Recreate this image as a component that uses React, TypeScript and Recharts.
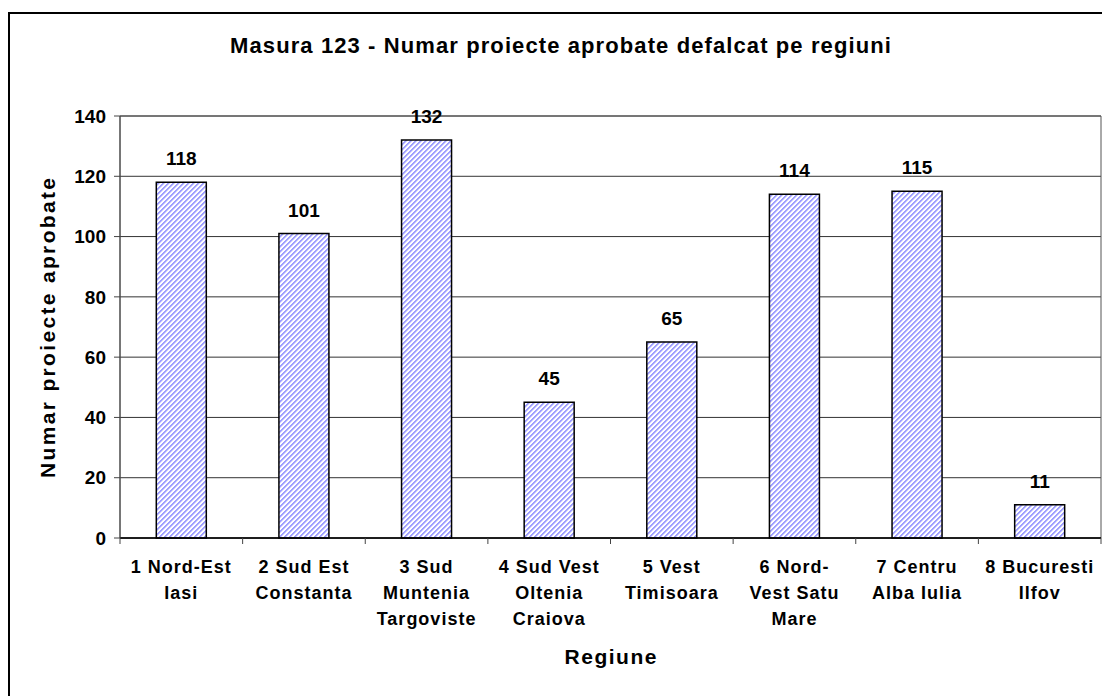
import React from 'react';
import {
  BarChart,
  Bar,
  XAxis,
  YAxis,
  CartesianGrid,
  LabelList,
  ReferenceArea,
} from 'recharts';

// regiuni (etichete pe mai multe randuri)
const regions = [
  '1 Nord-Est\nIasi',
  '2 Sud Est\nConstanta',
  '3 Sud\nMuntenia\nTargoviste',
  '4 Sud Vest\nOltenia\nCraiova',
  '5 Vest\nTimisoara',
  '6 Nord-\nVest Satu\nMare',
  '7 Centru\nAlba Iulia',
  '8 Bucuresti\nIlfov',
];
const projects = [118, 101, 132, 45, 65, 114, 115, 11];
const yTicks = [0, 20, 40, 60, 80, 100, 120, 140];

const data = regions.map((region, i) => ({ region, value: projects[i] }));

const FONT = '"Liberation Sans", Arial, sans-serif';

// hasura diagonala, 5px pe rand
const stripeColors = ['#a0a0ff', '#a0a0ff', '#d2d2ff', '#ffffff', '#ffffff'];

const RegionTick = (props: any) => {
  const { x, y, payload, index } = props;
  const lines = String(payload.value).split('\n');
  const half = payload.offset || 0;
  const axisY = y - 6;
  return (
    <g>
      <line x1={x - half} x2={x - half} y1={axisY} y2={axisY + 6} stroke="#444" />
      {index === data.length - 1 && (
        <line x1={x + half} x2={x + half} y1={axisY} y2={axisY + 6} stroke="#444" />
      )}
      <text
        x={x}
        y={axisY + 35}
        textAnchor="middle"
        fontFamily={FONT}
        fontWeight="bold"
        fontSize={18}
        letterSpacing={1}
        fill="#000"
      >
        {lines.map((l, i) => (
          <tspan key={i} x={x} dy={i === 0 ? 0 : 26}>
            {l}
          </tspan>
        ))}
      </text>
    </g>
  );
};

const YTitle = (props: any) => {
  const vb = props.viewBox || { x: 0, y: 0, width: 0, height: 0 };
  const cx = vb.x + 47;
  const cy = vb.y + vb.height / 2 + 1;
  return (
    <text
      x={cx}
      y={cy}
      transform={`rotate(-90 ${cx} ${cy})`}
      textAnchor="middle"
      dominantBaseline="central"
      fontFamily={FONT}
      fontWeight="bold"
      fontSize={21}
      textLength={300}
      lengthAdjust="spacing"
      fill="#000"
    >
      Numar proiecte aprobate
    </text>
  );
};

const XTitle = (props: any) => {
  const vb = props.viewBox || { x: 0, y: 0, width: 0, height: 0 };
  return (
    <text
      x={vb.x + vb.width / 2}
      y={vb.y + 126}
      textAnchor="middle"
      fontFamily={FONT}
      fontWeight="bold"
      fontSize={21}
      textLength={92}
      lengthAdjust="spacing"
      fill="#000"
    >
      Regiune
    </text>
  );
};

export default function App() {
  return (
    <div
      style={{
        position: 'fixed',
        left: 0,
        top: 0,
        width: 1102,
        height: 696,
        overflow: 'hidden',
        background: '#fff',
        fontFamily: FONT,
      }}
    >
      <div
        style={{
          position: 'absolute',
          left: 8,
          top: 12,
          width: 1096,
          height: 700,
          border: '2px solid #000',
          boxSizing: 'border-box',
        }}
      />
      <div
        style={{
          position: 'absolute',
          left: 8,
          top: 33,
          width: 1106,
          textAlign: 'center',
          fontWeight: 'bold',
          fontSize: 22,
          letterSpacing: 1.1,
          color: '#000',
        }}
      >
        Masura 123 - Numar proiecte aprobate defalcat pe regiuni
      </div>
      <div style={{ position: 'absolute', left: 0, top: 0 }}>
        <BarChart
          width={1102}
          height={696}
          data={data}
          margin={{ top: 116, right: 1, bottom: 0, left: 0 }}
          barCategoryGap="29.6%"
        >
          <defs>
            <pattern id="hatch" width="5" height="5" patternUnits="userSpaceOnUse">
              {[0, 1, 2, 3, 4].map((r) =>
                stripeColors.map((c, k) => (
                  <rect
                    key={`${r}-${k}`}
                    x={(k - r + 10) % 5}
                    y={r}
                    width="1"
                    height="1"
                    fill={c}
                    shapeRendering="crispEdges"
                  />
                ))
              )}
            </pattern>
          </defs>
          <CartesianGrid vertical={false} stroke="#333" />
          <ReferenceArea y1={0} y2={140} fill="none" stroke="#555" strokeWidth={1} />
          <XAxis
            dataKey="region"
            height={158}
            interval={0}
            tickLine={false}
            tickSize={6}
            tickMargin={0}
            axisLine={{ stroke: '#000', strokeWidth: 1.5 }}
            tick={<RegionTick />}
            label={<XTitle />}
          />
          <YAxis
            width={120}
            domain={[0, 140]}
            ticks={yTicks}
            interval={0}
            tickSize={6}
            tickMargin={8}
            axisLine={{ stroke: '#444' }}
            tickLine={{ stroke: '#444' }}
            tick={{ fontFamily: FONT, fontWeight: 'bold', fontSize: 19, fill: '#000' }}
            label={<YTitle />}
          />
          <Bar
            dataKey="value"
            fill="url(#hatch)"
            stroke="#000"
            strokeWidth={1.5}
            isAnimationActive={false}
          >
            <LabelList
              dataKey="value"
              position="top"
              offset={17}
              fontFamily={FONT}
              fontWeight="bold"
              fontSize={19}
              fill="#000"
            />
          </Bar>
        </BarChart>
      </div>
    </div>
  );
}
